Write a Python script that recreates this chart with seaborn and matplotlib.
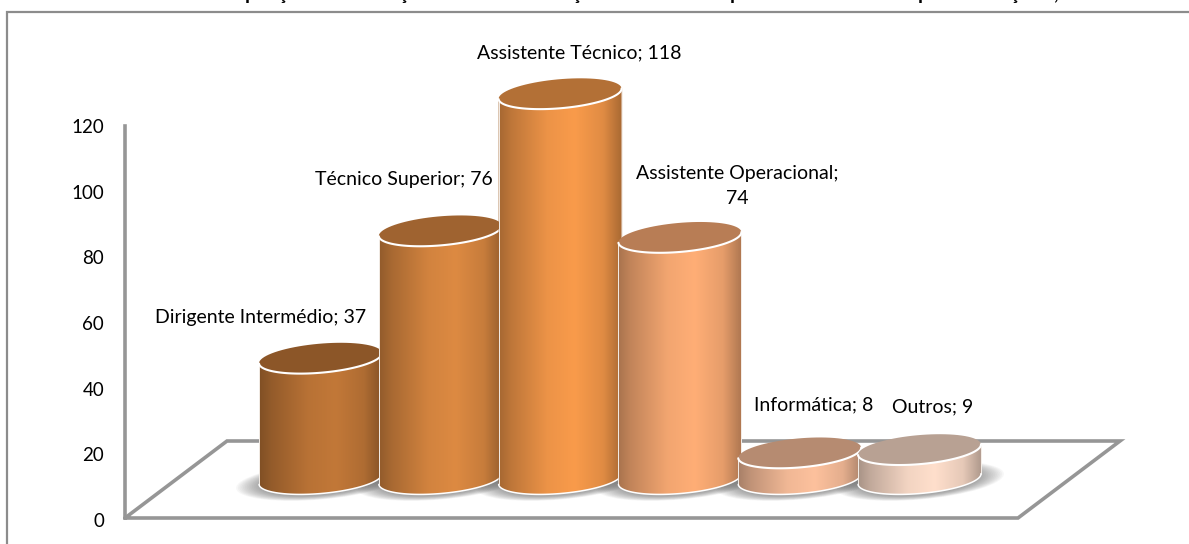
import numpy as np
import matplotlib
matplotlib.use("Agg")
import matplotlib.pyplot as plt
from matplotlib.patches import Ellipse, Polygon
import seaborn as sns

categories = ["Dirigente Intermédio", "Técnico Superior", "Assistente Técnico",
              "Assistente Operacional", "Informática", "Outros"]
values = [37, 76, 118, 74, 8, 9]
bar_colors = ["#c27838", "#dd8a42", "#f99b4b", "#ffae76", "#fdc19d", "#ffdfcc"]
y_ticks = [0, 20, 40, 60, 80, 100, 120]

# the title is cut off by the top of the image, only these descenders can be read
title_glyphs = ["p", "ç", "ç", "ç", "p", "p", "ç", ","]
title_x = [250, 282, 403, 576, 735, 923, 1014, 1055]

W, H = 1189, 544
sns.set_theme(style="white")
plt.rcParams["font.family"] = ["Lato", "DejaVu Sans"]

fig = plt.figure(figsize=(W / 100, H / 100), dpi=100, facecolor="white")

# bars, floor level at y=479 px
ax = fig.add_axes([0, 0, 1, 1])
sns.barplot(x=categories, y=values, hue=categories, palette=bar_colors, saturation=1,
            width=1.03, legend=False, ax=ax)
px_per_unit = 3.265
ax.set_xlim(-320.5 / 119.8, (W - 320.5) / 119.8)
ax.set_ylim(-(H - 479) / px_per_unit, 479 / px_per_unit)
ax.set_axis_off()

# value axis
ax_y = fig.add_axes([125 / W, (H - 520) / H, 893 / W, 394 / H], facecolor="none")
ax_y.set_ylim(0, 120)
ax_y.set_yticks(y_ticks)
ax_y.set_xticks([])
ax_y.tick_params(axis="y", length=0, pad=15, labelsize=13.5, labelcolor="black")
for side in ["top", "right", "bottom"]:
    ax_y.spines[side].set_visible(False)
ax_y.spines["left"].set_color("#969696")
ax_y.spines["left"].set_linewidth(2.6)
ax_y.spines["left"].set_bounds(0.6, 120)

# overlay in pixel coordinates for the frame, floor and cylinders
px = fig.add_axes([0, 0, 1, 1], facecolor="none")
px.set_axis_off()

GREY = "#969696"
px.plot([7, 7, W], [H, 12, 12], color="#8c8c8c", lw=1.6, solid_joinstyle="miter", zorder=1)
px.plot([125, 227, 1120, 1018, 125], [518, 441, 441, 518, 518], color=GREY, lw=2.6,
        solid_joinstyle="miter", zorder=1)


def tilted_arc(cx, cy, a, b, start, end, n=80, tilt=np.deg2rad(-5)):
    t = np.linspace(start, end, n)
    x = a * np.cos(t)
    y = b * np.sin(t)
    return (cx + x * np.cos(tilt) - y * np.sin(tilt),
            cy + x * np.sin(tilt) + y * np.cos(tilt))


fig.canvas.draw()
B = 14.5
for z, patch in enumerate(ax.patches):
    color = np.array(patch.get_facecolor()[:3])
    x0, base = ax.transData.transform((patch.get_x(), 0))
    x1, top = ax.transData.transform((patch.get_x() + patch.get_width(), patch.get_height()))
    base, top = H - base, H - top
    cx, a = (x0 + x1) / 2, (x1 - x0) / 2
    patch.set_visible(False)

    # soft shadow on the floor
    for k in np.linspace(1, 0, 14):
        px.add_patch(Ellipse((cx, base + 2), 2 * a + 46 * k, 2 * B + 8 * k, angle=-5,
                             color="#505050", alpha=0.045, lw=0, zorder=2))

    # body: left side, bottom arc, right side, top arc
    xb, yb = tilted_arc(cx, base, a, B, np.pi, 0)
    xt, yt = tilted_arc(cx, top, a, B, 0, np.pi)
    body = Polygon(np.column_stack([np.r_[xb, xt], np.r_[yb, yt]]), closed=True,
                   fc="none", ec="none", zorder=10 + 3 * z + 1)

    pos = np.linspace(0, 1, 200)
    shade = np.interp(pos, [0, 0.1, 0.4, 0.62, 0.85, 1], [0.66, 0.76, 0.95, 1, 0.9, 0.68])
    grad = np.clip(color[None, :] * shade[:, None], 0, 1)[None, :, :]
    img = px.imshow(grad, extent=(x0, x1, base + 20, top - 20), aspect="auto",
                    zorder=10 + 3 * z, interpolation="bilinear")
    px.add_patch(body)
    img.set_clip_path(body)
    # thin light sides, stronger rim along the bottom
    px.plot(np.r_[xt[-1], xb[0]], np.r_[yt[-1], yb[0]], color="#f4eee8", lw=0.7, zorder=10 + 3 * z + 1)
    px.plot(np.r_[xb[-1], xt[0]], np.r_[yb[-1], yt[0]], color="#f4eee8", lw=0.7, zorder=10 + 3 * z + 1)
    px.plot(xb, yb, color="white", lw=1.1, zorder=10 + 3 * z + 1)

    # top of the cylinder
    xe, ye = tilted_arc(cx, top, a, B, 0, 2 * np.pi)
    px.add_patch(Polygon(np.column_stack([xe, ye]), closed=True, fc=color * 0.72, ec="none",
                         zorder=10 + 3 * z + 2))
    xl, yl = tilted_arc(cx, top, a, B, 0, np.pi)
    px.plot(xl, yl, color="white", lw=1.5, zorder=10 + 3 * z + 2)

px.set_xlim(0, W)
px.set_ylim(H, 0)

# data labels, wrapped like the original where the label is long
label_pos = [(261, 318), (404, 179), (579, 53), (737, 186), (814, 405), (933, 407)]
for name, val, (lx, ly) in zip(categories, values, label_pos):
    text = f"{name}; {val}"
    if name == "Assistente Operacional":
        text = f"{name};\n{val}"
    px.text(lx, ly, text, ha="center", va="center", fontsize=14, color="black",
            linespacing=1.55, zorder=40)

for glyph, gx in zip(title_glyphs, title_x):
    px.text(gx, 0, glyph, ha="center", va="baseline", fontsize=14, fontweight="bold",
            color="black", clip_on=False, zorder=40)

fig.savefig("out.png", dpi=100)
plt.close(fig)
